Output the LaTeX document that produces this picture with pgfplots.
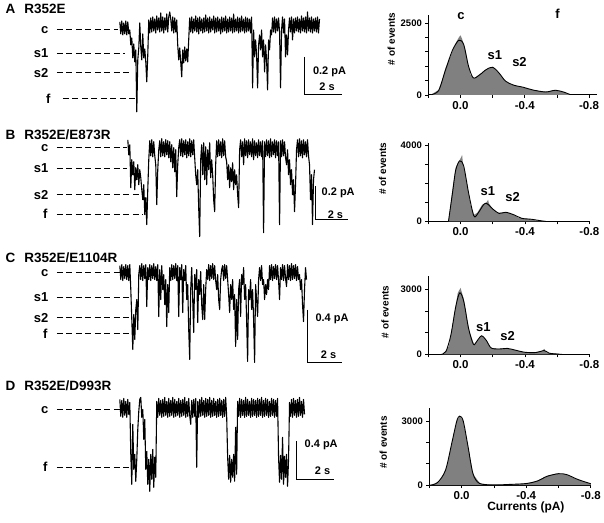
\documentclass[border=0pt]{standalone}
\usepackage{fontspec}
\setmainfont{Liberation Sans}
\usepackage{pgfplots}
\pgfplotsset{compat=1.18}
\definecolor{histgray}{RGB}{128,128,128}
\newcommand{\fT}{\fontsize{13.5}{14}\selectfont\bfseries}
\newcommand{\fL}{\fontsize{13}{14}\selectfont\bfseries}
\newcommand{\fS}{\fontsize{11}{12}\selectfont\bfseries}
\pgfplotsset{
  histo/.style={
    scale only axis, anchor=south west,
    axis x line*=bottom, axis y line*=left,
    axis line style={-, line width=0.8pt},
    x dir=reverse, xmax=0.2, ymin=0,
    tick align=outside, major tick length=3pt,
    tick style={line width=0.7pt, black},
    xtick={0.2,0,-0.2,-0.4,-0.6,-0.8},
    xticklabels={,\textbf{0.0},,\textbf{-0.4},,\textbf{-0.8}},
    x tick label style={font=\fontsize{11.5}{12}\selectfont\bfseries},
    y tick label style={font=\fontsize{9.5}{10}\selectfont\bfseries},
    scaled y ticks=false, clip=false,
    ylabel={\# of events},
  },
  tr/.style={black, line width=1.1pt, line join=round},
  dl/.style={black, line width=0.8pt, dash pattern=on 6pt off 3.5pt},
  sb/.style={black, line width=1pt},
  fit/.style={black, line width=0.9pt, smooth},
  hf/.style={fill=histgray, draw=none},
}
\begin{document}
\begin{tikzpicture}
\begin{axis}[name=main, at={(0,0)}, anchor=south west, width=604pt, height=523pt,
  scale only axis, xmin=0, xmax=604, ymin=0, ymax=523, y dir=reverse, hide axis, clip=false]
% ---------------- Trace A
\addplot[tr] coordinates {
(120,22)(121,34)(122,21)(123,35)(124,23)(125,34)(126,21)(127,35)(128,22)(129,34)
(130,30)(131,45)(132,38)(133,58)(134,44)(135,62)(136,50)(137,112)(138,60)(139,48)
(140,23)(141,47)(142,60)(143,34)(144,58)(145,49)(146,62)(147,82)(148,55)(149,20)
(150,33)(151,18)(152,32)(153,17)(154,31)(155,19)(156,33)(157,16)(158,30)(159,18)
(160,32)(161,13)(162,31)(163,17)(164,33)(165,18)(166,30)(167,14)(168,32)(169,17)
(170,12)(171,19)(172,31)(173,17)(174,33)(175,18)(176,32)(177,20)(178,45)(179,60)
(180,48)(181,62)(182,77)(183,50)(184,63)(185,47)(186,61)(187,49)(188,62)(189,40)
(190,18)(191,32)(192,17)(193,33)(194,19)(195,31)(196,16)(197,32)(198,18)(199,34)
(200,17)(201,31)(202,19)(203,33)(204,18)(205,32)(206,15)(207,31)(208,18)(209,33)
(210,17)(211,32)(212,19)(213,30)(214,16)(215,33)(216,18)(217,32)(218,17)(219,31)
(220,19)(221,34)(222,17)(223,32)(224,18)(225,31)(226,16)(227,33)(228,19)(229,32)
(230,17)(231,31)(232,18)(233,33)(234,14)(235,32)(236,19)(237,31)(238,17)(239,33)
(240,18)(241,32)(242,16)(243,31)(244,19)(245,33)(246,17)(247,32)(248,18)(249,31)
(250,19)(251,33)(252,17)(253,88)(254,30)(255,57)(256,40)(257,55)(258,88)(259,45)
(260,35)(261,50)(262,30)(263,57)(264,40)(265,72)(266,45)(267,60)(268,90)(269,40)
(270,50)(271,30)(272,35)(273,18)(274,32)(275,17)(276,33)(277,19)(278,31)(279,18)
(280,32)(281,88)(282,30)(283,17)(284,33)(285,19)(286,57)(287,35)(288,55)(289,30)
(290,18)(291,32)(292,17)(293,40)(294,19)(295,33)(296,18)(297,31)(298,17)(299,32)
(300,19)(301,33)(302,16)(303,31)(304,18)(305,32)(306,17)(307,33)(308,12)(309,31)
(310,18)(311,32)(312,17)(313,33)(314,19)(315,31)(316,18)(317,32)(318,17)(319,33)(320,19)};
\addplot[dl] coordinates {(57,29)(118,29)};
\addplot[dl] coordinates {(57,53)(125,53)};
\addplot[dl] coordinates {(57,73)(133,73)};
\addplot[dl] coordinates {(63,99)(137,99)};
\addplot[sb] coordinates {(305,57)(305,95)(343,95)};
\node[anchor=base west, font=\fT] at (axis cs:2,13.3) {A};
\node[anchor=base west, font=\fT] at (axis cs:21,13.3) {R352E};
\node[anchor=east, font=\fL] at (axis cs:52,30) {c};
\node[anchor=east, font=\fL] at (axis cs:52,53) {s1};
\node[anchor=east, font=\fL] at (axis cs:52,73) {s2};
\node[anchor=east, font=\fL] at (axis cs:54,99) {f};
\node[font=\fS] at (axis cs:330,72) {0.2 pA};
\node[font=\fS] at (axis cs:327.5,87) {2 s};
% ---------------- Trace B
\addplot[tr] coordinates {
(128,140)(129,155)(130,145)(131,188)(132,160)(133,175)(134,162)(135,190)(136,168)(137,180)
(138,165)(139,185)(140,170)(141,178)(142,190)(143,200)(144,185)(145,215)(146,198)(147,225)
(148,190)(149,160)(150,141)(151,156)(152,140)(153,157)(154,142)(155,156)(156,165)(157,205)
(158,170)(159,150)(160,141)(161,157)(162,139)(163,156)(164,142)(165,157)(166,140)(167,155)
(168,141)(169,158)(170,142)(171,162)(172,145)(173,168)(174,148)(175,172)(176,150)(177,197)
(178,165)(179,148)(180,140)(181,156)(182,139)(183,157)(184,141)(185,155)(186,140)(187,158)
(188,142)(189,156)(190,139)(191,157)(192,141)(193,155)(194,140)(195,158)(196,175)(197,185)
(198,170)(199,208)(200,237)(201,160)(202,145)(203,175)(204,143)(205,180)(206,147)(207,185)
(208,150)(209,170)(210,143)(211,178)(212,160)(213,175)(214,200)(215,212)(216,165)(217,141)
(218,157)(219,140)(220,156)(221,142)(222,158)(223,139)(224,156)(225,141)(226,157)(227,162)
(228,180)(229,165)(230,188)(231,168)(232,182)(233,163)(234,190)(235,170)(236,185)(237,175)
(238,195)(239,208)(240,150)(241,140)(242,157)(243,142)(244,165)(245,139)(246,156)(247,141)
(248,158)(249,140)(250,155)(251,142)(252,157)(253,139)(254,160)(255,141)(256,156)(257,143)
(258,158)(259,140)(260,156)(261,142)(262,157)(263,141)(264,233)(265,142)(266,157)(267,140)
(268,156)(269,141)(270,158)(271,139)(272,157)(273,142)(274,155)(275,140)(276,158)(277,141)
(278,156)(279,142)(280,225)(281,141)(282,157)(283,140)(284,156)(285,142)(286,158)(287,165)
(288,150)(289,175)(290,160)(291,185)(292,170)(293,195)(294,180)(295,212)(296,185)(297,150)
(298,140)(299,157)(300,139)(301,156)(302,141)(303,158)(304,140)(305,155)(306,142)(307,157)
(308,140)(309,156)(310,165)(311,200)(312,175)(313,225)(314,180)(315,170)};
\addplot[dl] coordinates {(57,147.7)(127,147.7)};
\addplot[dl] coordinates {(57,168.3)(127,168.3)};
\addplot[dl] coordinates {(57,195)(142,195)};
\addplot[dl] coordinates {(57,214.3)(143,214.3)};
\addplot[sb] coordinates {(316,186.7)(316,220)(349,220)};
\node[anchor=base west, font=\fT] at (axis cs:2,140) {B};
\node[anchor=base west, font=\fT] at (axis cs:21,140) {R352E/E873R};
\node[anchor=east, font=\fL] at (axis cs:52,148.5) {c};
\node[anchor=east, font=\fL] at (axis cs:52,168.3) {s1};
\node[anchor=east, font=\fL] at (axis cs:52,195) {s2};
\node[anchor=east, font=\fL] at (axis cs:51,214.3) {f};
\node[font=\fS] at (axis cs:338.7,193.3) {0.2 pA};
\node[font=\fS] at (axis cs:336,215) {2 s};
% ---------------- Trace C
\addplot[tr] coordinates {
(120,266)(121,280)(122,265)(123,281)(124,267)(125,279)(126,265)(127,280)(128,266)(129,281)
(130,265)(131,290)(132,320)(133,350)(134,315)(135,340)(136,310)(137,300)(138,330)(139,275)
(140,266)(141,280)(142,264)(143,281)(144,266)(145,279)(146,265)(147,307)(148,268)(149,280)
(150,265)(151,281)(152,266)(153,279)(154,264)(155,280)(156,267)(157,281)(158,265)(159,317)
(160,270)(161,300)(162,266)(163,290)(164,275)(165,305)(166,280)(167,327)(168,285)(169,313)
(170,268)(171,281)(172,265)(173,280)(174,266)(175,279)(176,264)(177,281)(178,266)(179,317)
(180,268)(181,280)(182,265)(183,313)(184,270)(185,281)(186,266)(187,300)(188,285)(189,330)
(190,360)(191,290)(192,268)(193,300)(194,333)(195,275)(196,290)(197,270)(198,323)(199,280)
(200,295)(201,272)(202,305)(203,320)(204,285)(205,320)(206,290)(207,270)(208,280)(209,265)
(210,281)(211,266)(212,279)(213,264)(214,280)(215,266)(216,281)(217,290)(218,275)(219,300)
(220,310)(221,280)(222,270)(223,266)(224,281)(225,265)(226,279)(227,266)(228,280)(229,295)
(230,313)(231,285)(232,300)(233,280)(234,310)(235,295)(236,347)(237,300)(238,340)(239,290)
(240,280)(241,317)(242,275)(243,285)(244,268)(245,300)(246,285)(247,320)(248,362)(249,290)
(250,300)(251,280)(252,310)(253,290)(254,320)(255,363)(256,285)(257,300)(258,317)(259,280)
(260,268)(261,281)(262,266)(263,285)(264,280)(265,300)(266,285)(267,295)(268,280)(269,290)
(270,266)(271,280)(272,265)(273,281)(274,267)(275,279)(276,265)(277,280)(278,266)(279,281)
(280,300)(281,268)(282,280)(283,265)(284,281)(285,266)(286,279)(287,287)(288,265)(289,280)
(290,266)(291,281)(292,264)(293,280)(294,266)(295,279)(296,265)(297,281)(298,267)(299,280)
(300,275)(301,290)(302,280)(303,305)(304,322)(305,290)(306,268)(307,280)};
\addplot[dl] coordinates {(57,272.7)(120,272.7)};
\addplot[dl] coordinates {(57,297.7)(133,297.7)};
\addplot[dl] coordinates {(57,318.3)(132,318.3)};
\addplot[dl] coordinates {(57,334.3)(133,334.3)};
\addplot[sb] coordinates {(308.3,310)(308.3,363.3)(343,363.3)};
\node[anchor=base west, font=\fT] at (axis cs:2,262.5) {C};
\node[anchor=base west, font=\fT] at (axis cs:21,262.5) {R352E/E1104R};
\node[anchor=east, font=\fL] at (axis cs:52,273.5) {c};
\node[anchor=east, font=\fL] at (axis cs:52,297.7) {s1};
\node[anchor=east, font=\fL] at (axis cs:52,318.3) {s2};
\node[anchor=east, font=\fL] at (axis cs:51,334.3) {f};
\node[font=\fS] at (axis cs:332.5,319) {0.4 pA};
\node[font=\fS] at (axis cs:329,355) {2 s};
% ---------------- Trace D
\addplot[tr] coordinates {
(120,400)(121,417)(122,401)(123,418)(124,399)(125,416)(126,402)(127,418)(128,400)(129,415)
(130,403)(131,455)(132,485)(133,425)(134,470)(135,455)(136,482)(137,460)(138,430)(139,412)
(140,400)(141,398)(142,418)(143,410)(144,440)(145,420)(146,470)(147,452)(148,485)(149,460)
(150,492)(151,455)(152,480)(153,450)(154,488)(155,458)(156,478)(157,402)(158,418)(159,399)
(160,416)(161,401)(162,418)(163,400)(164,417)(165,398)(166,416)(167,402)(168,418)(169,399)
(170,417)(171,401)(172,416)(173,398)(174,418)(175,400)(176,417)(177,402)(178,416)(179,399)
(180,418)(181,401)(182,417)(183,400)(184,416)(185,398)(186,418)(187,402)(188,417)(189,399)
(190,416)(191,425)(192,401)(193,418)(194,400)(195,417)(196,399)(197,468)(198,402)(199,418)
(200,400)(201,417)(202,398)(203,416)(204,401)(205,418)(206,399)(207,417)(208,400)(209,416)
(210,398)(211,418)(212,401)(213,417)(214,399)(215,416)(216,402)(217,418)(218,400)(219,417)
(220,399)(221,416)(222,401)(223,418)(224,400)(225,417)(226,398)(227,416)(228,458)(229,480)
(230,456)(231,483)(232,460)(233,478)(234,455)(235,482)(236,428)(237,475)(238,402)(239,417)
(240,399)(241,418)(242,400)(243,416)(244,401)(245,418)(246,398)(247,417)(248,400)(249,416)
(250,402)(251,418)(252,399)(253,417)(254,400)(255,416)(256,401)(257,418)(258,399)(259,417)
(260,400)(261,416)(262,398)(263,418)(264,401)(265,417)(266,399)(267,416)(268,400)(269,418)
(270,402)(271,417)(272,399)(273,416)(274,400)(275,418)(276,401)(277,417)(278,399)(279,458)
(280,483)(281,456)(282,480)(283,438)(284,485)(285,457)(286,478)(287,455)(288,487)(289,460)
(290,403)(291,417)(292,400)(293,418)(294,399)(295,416)(296,401)(297,418)(298,400)(299,417)
(300,398)(301,416)(302,402)(303,418)(304,400)(305,415)};
\addplot[dl] coordinates {(57,410)(120,410)};
\addplot[dl] coordinates {(57,467.7)(132,467.7)};
\addplot[sb] coordinates {(296.7,441.7)(296.7,480)(335,480)};
\node[anchor=base west, font=\fT] at (axis cs:2,391.5) {D};
\node[anchor=base west, font=\fT] at (axis cs:21,391.5) {R352E/D993R};
\node[anchor=east, font=\fL] at (axis cs:52,411) {c};
\node[anchor=east, font=\fL] at (axis cs:51,467.7) {f};
\node[font=\fS] at (axis cs:321.7,445) {0.4 pA};
\node[font=\fS] at (axis cs:323,471) {2 s};
% ---------------- histogram annotations
\node[font=\fL] at (axis cs:461.7,15.7) {c};
\node[font=\fL] at (axis cs:558.3,14.3) {f};
\node[font=\fL] at (axis cs:495.7,55.3) {s1};
\node[font=\fL] at (axis cs:520.3,62) {s2};
\node[font=\fL] at (axis cs:488.7,191.7) {s1};
\node[font=\fL] at (axis cs:513.3,197.7) {s2};
\node[font=\fL] at (axis cs:484,328) {s1};
\node[font=\fL] at (axis cs:508.3,336.7) {s2};
\end{axis}
\path (main.south west) rectangle (main.north east);
% ---------------- Histogram A
\begin{axis}[histo, at={(429pt,428pt)}, width=169pt, height=80pt, xmin=-0.85, ymax=2780,
  ytick={0,500,1000,1500,2000,2500}, yticklabels={\textbf{0},,,,,\textbf{2500}},
  ylabel style={font=\fontsize{10}{11}\selectfont\bfseries, at={(axis description cs:-0.219,0.70)}, anchor=center}]
\addplot[hf] coordinates {(0.178,23)(0.136,173)(0.115,500)(0.094,922)(0.063,1325)(0.031,1786)(0.01,2000)(0,2074)(-0.01,1950)(-0.031,1555)(-0.05,1000)(-0.063,691)(-0.083,576)(-0.114,691)(-0.156,864)(-0.198,979)(-0.24,749)(-0.281,461)(-0.323,346)(-0.385,265)(-0.448,173)(-0.531,104)(-0.594,173)(-0.635,104)(-0.677,23)} \closedcycle;
\addplot[fit] coordinates {(0.18,10)(0.136,150)(0.094,850)(0.05,1550)(0.01,1900)(-0.02,1750)(-0.05,1000)(-0.08,590)(-0.12,700)(-0.16,880)(-0.2,960)(-0.24,760)(-0.28,480)(-0.33,340)(-0.39,265)(-0.45,170)(-0.53,100)(-0.59,160)(-0.64,100)(-0.68,15)};
\end{axis}
% ---------------- Histogram B
\begin{axis}[histo, at={(429pt,301.3pt)}, width=161.3pt, height=78.4pt, xmin=-0.8, ymax=4125,
  ytick={0,1000,2000,3000,4000}, yticklabels={\textbf{0},,,,\textbf{4000}},
  ylabel style={font=\fontsize{10}{11}\selectfont\bfseries, at={(axis description cs:-0.285,0.672)}, anchor=center}]
\addplot[hf] coordinates {(0.075,0)(0.072,200)(0.052,1579)(0.031,2807)(0.01,3158)(-0.005,3400)(-0.01,3509)(-0.015,3000)(-0.031,2456)(-0.062,877)(-0.083,351)(-0.103,439)(-0.134,877)(-0.155,965)(-0.165,1050)(-0.171,1140)(-0.176,950)(-0.196,702)(-0.227,439)(-0.279,491)(-0.32,386)(-0.362,175)(-0.424,123)(-0.465,53)(-0.527,0)} \closedcycle;
\addplot[fit] coordinates {(0.075,0)(0.05,1500)(0.03,2700)(0.005,3190)(-0.02,2900)(-0.05,1500)(-0.083,280)(-0.11,450)(-0.145,900)(-0.165,930)(-0.2,650)(-0.24,420)(-0.28,480)(-0.33,350)(-0.38,160)(-0.44,110)(-0.5,30)(-0.53,0)};
\end{axis}
% ---------------- Histogram C
\begin{axis}[histo, at={(429pt,168pt)}, width=161.3pt, height=78.3pt, xmin=-0.8, ymax=3613,
  ytick={0,1000,2000,3000}, yticklabels={\textbf{0},,,\textbf{3000}},
  ylabel style={font=\fontsize{10}{11}\selectfont\bfseries, at={(axis description cs:-0.268,0.543)}, anchor=center}]
\addplot[hf] coordinates {(0.12,0)(0.103,46)(0.072,385)(0.041,1769)(0.017,2846)(0,3077)(-0.021,2538)(-0.052,1154)(-0.083,462)(-0.103,615)(-0.13,877)(-0.155,692)(-0.186,308)(-0.238,262)(-0.279,292)(-0.32,231)(-0.362,154)(-0.403,108)(-0.465,108)(-0.505,150)(-0.52,262)(-0.53,120)(-0.537,77)(-0.61,31)(-0.63,0)} \closedcycle;
\addplot[fit] coordinates {(0.12,0)(0.09,150)(0.06,900)(0.03,2200)(0.005,2846)(-0.02,2450)(-0.05,1200)(-0.08,470)(-0.1,600)(-0.13,860)(-0.16,650)(-0.19,300)(-0.24,250)(-0.29,280)(-0.34,200)(-0.4,100)(-0.47,90)(-0.52,180)(-0.55,60)(-0.6,20)(-0.63,0)};
\end{axis}
% ---------------- Histogram D
\begin{axis}[histo, at={(430pt,37pt)}, width=161.7pt, height=77.7pt, xmin=-0.8, ymax=3625,
  ytick={0,1000,2000,3000}, yticklabels={\textbf{0},,,\textbf{3000}},
  ylabel style={font=\fontsize{10}{11}\selectfont\bfseries, at={(axis description cs:-0.285,0.553)}, anchor=center},
  xlabel={Currents (pA)},
  xlabel style={font=\fontsize{12}{13}\selectfont\bfseries, at={(axis description cs:0.598,-0.283)}, anchor=center}]
\addplot[hf] coordinates {(0.2,0)(0.186,15)(0.134,202)(0.093,824)(0.062,1913)(0.031,3002)(0.01,3235)(-0.01,3002)(-0.041,1757)(-0.072,513)(-0.114,78)(-0.196,15)(-0.3,47)(-0.403,78)(-0.465,202)(-0.527,435)(-0.589,544)(-0.64,513)(-0.713,280)(-0.795,78)(-0.8,70)} \closedcycle;
\addplot[fit] coordinates {(0.2,0)(0.15,120)(0.1,700)(0.06,2000)(0.03,3000)(0.012,3230)(-0.01,3000)(-0.04,1800)(-0.07,550)(-0.11,90)(-0.2,15)(-0.3,40)(-0.4,80)(-0.47,200)(-0.53,420)(-0.6,540)(-0.65,500)(-0.72,270)(-0.8,70)};
\end{axis}
\end{tikzpicture}
\end{document}
